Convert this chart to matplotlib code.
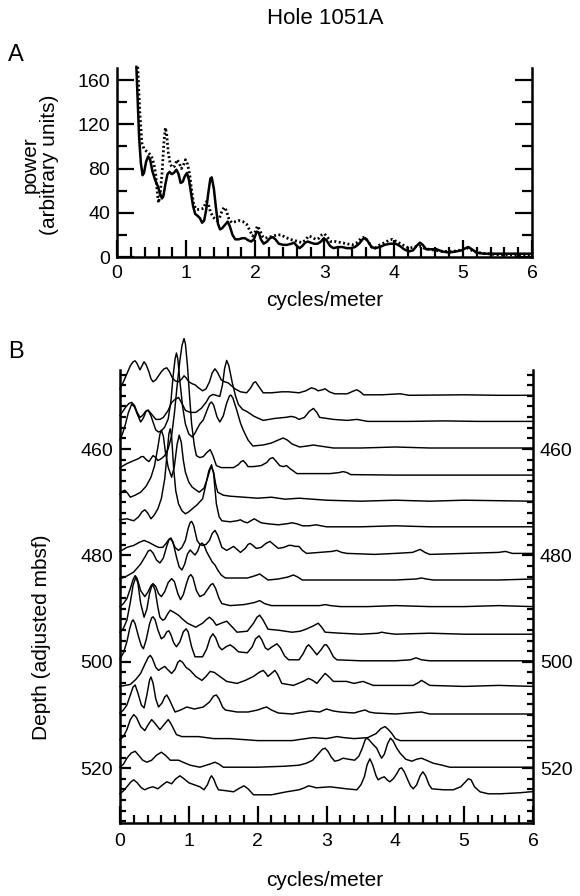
import matplotlib
matplotlib.use("Agg")
import matplotlib.pyplot as plt
from matplotlib.ticker import MultipleLocator, FixedLocator

plt.rcParams['font.family'] = ['Liberation Sans', 'DejaVu Sans']

# ---------------- Panel A data (frequency in cycles/m, power in arbitrary units) ----------------
a_solid = [(0.28,172),(0.30,140),(0.32,108),(0.345,85),(0.37,74),(0.39,76),(0.42,86),(0.45,91),(0.48,88),
           (0.51,78),(0.55,70),(0.59,64),(0.62,58),(0.65,53),(0.67,55),(0.70,66),(0.73,75),(0.76,77),
           (0.79,75),(0.82,76),(0.86,79),(0.89,75),(0.92,67),(0.95,68),(0.98,73),(1.01,76),(1.04,70),
           (1.07,58),(1.10,46),(1.13,39),(1.17,37),(1.20,35),(1.23,31),(1.26,33),(1.29,43),(1.32,58),
           (1.35,71),(1.37,72),(1.40,62),(1.43,45),(1.46,30),(1.49,25),(1.52,26),(1.56,29),(1.60,32),
           (1.63,28),(1.67,20),(1.71,16),(1.76,16),(1.81,17),(1.85,17),(1.90,15),(1.94,14),(1.98,16),
           (2.02,23),(2.05,22),(2.08,16),(2.12,12),(2.17,14),(2.21,17),(2.25,18),(2.29,16),(2.34,12),
           (2.40,11),(2.46,11),(2.52,12),(2.56,13),(2.60,10),(2.64,8),(2.68,10),(2.72,13),(2.76,14),
           (2.80,13),(2.85,12),(2.90,12),(2.95,14),(2.99,17),(3.03,15),(3.08,10),(3.13,8),(3.20,9),
           (3.26,9),(3.32,8),(3.38,8),(3.44,9),(3.50,12),(3.55,16),(3.59,17),(3.63,14),(3.68,9),
           (3.73,8),(3.80,9),(3.87,11),(3.95,12),(4.03,12),(4.09,10),(4.15,7),(4.22,5),(4.28,6),
           (4.33,10),(4.38,13),(4.42,11),(4.47,7),(4.55,7),(4.62,7),(4.70,5),(4.80,4),(4.90,5),
           (4.98,6),(5.04,8),(5.08,9),(5.13,7),(5.20,4),(5.30,3),(5.45,3),(5.60,3),(6.0,3)]
a_dotted = [(0.30,172),(0.33,130),(0.36,103),(0.39,98),(0.42,96),(0.46,94),(0.50,91),(0.53,85),(0.56,75),
            (0.58,60),(0.60,49),(0.62,55),(0.65,75),(0.68,105),(0.70,117),(0.72,110),(0.74,95),(0.77,84),
            (0.80,81),(0.83,82),(0.87,88),(0.90,85),(0.93,80),(0.96,83),(0.99,88),(1.02,84),(1.05,75),
            (1.08,60),(1.11,47),(1.15,43),(1.20,43),(1.25,44),(1.29,50),(1.32,48),(1.35,41),(1.39,36),
            (1.44,33),(1.48,35),(1.52,42),(1.55,45),(1.58,42),(1.62,34),(1.66,31),(1.71,32),(1.76,33),
            (1.82,32),(1.87,30),(1.92,24),(1.96,19),(2.00,23),(2.03,28),(2.06,25),(2.10,19),(2.14,17),
            (2.20,18),(2.26,19),(2.32,20),(2.37,20),(2.43,18),(2.50,16),(2.56,15),(2.62,14),(2.67,13),
            (2.72,15),(2.77,19),(2.82,18),(2.87,16),(2.92,17),(2.96,20),(3.00,21),(3.04,18),(3.09,14),
            (3.16,14),(3.24,13),(3.32,12),(3.40,11),(3.47,13),(3.53,17),(3.58,18),(3.63,14),(3.68,9),
            (3.73,8),(3.80,11),(3.87,13),(3.93,15),(3.98,16),(4.04,14),(4.10,12),(4.16,10),(4.22,8),
            (4.30,9),(4.37,10),(4.44,8),(4.51,7),(4.60,6),(4.72,5),(4.85,5),(4.95,6),(5.02,8),(5.07,8),
            (5.13,6),(5.21,4),(5.35,3),(5.50,2),(6.0,2)]

# ---------------- Panel B data: one spectrum per depth (frequency, power) ----------------
depths = [450, 455, 460, 465, 470, 475, 480, 485, 490, 495, 500, 505, 510, 515, 520, 525]
traces = {
    450: [(0,7),(0.05,14),(0.1,22),(0.15,30),(0.19,34),(0.22,35),(0.25,32),(0.29,26),(0.32,30),(0.35,34),
          (0.38,31),(0.42,24),(0.45,17),(0.48,14),(0.52,16),(0.56,20),(0.6,24),(0.64,27),(0.68,28),
          (0.72,24),(0.76,18),(0.8,15),(0.85,14),(0.9,17),(0.93,20),(0.96,18),(1.0,14),(1.05,12),
          (1.09,11),(1.14,8),(1.2,5),(1.25,7),(1.3,14),(1.34,23),(1.38,27),(1.42,23),(1.47,16),(1.52,14),
          (1.57,13),(1.62,10),(1.67,7),(1.75,4),(1.84,3),(1.9,8),(1.94,13),(1.97,14),(2.01,10),(2.08,3),
          (2.2,3),(2.35,4),(2.45,4),(2.6,3),(2.7,5),(2.78,8),(2.83,7),(2.88,5),(2.94,6),(2.98,7),(3.04,4),
          (3.12,2),(3.3,2),(3.4,5),(3.44,6),(3.49,4),(3.54,1),(3.8,1),(4.07,2),(4.2,0.5),(5.0,1),
          (5.5,0.5),(6,0.5)],
    455: [(0,7),(0.04,11),(0.08,15),(0.13,19),(0.17,20),(0.21,17),(0.25,10),(0.29,5),(0.33,7),(0.37,11),
          (0.41,12),(0.45,9),(0.52,3),(0.58,3),(0.63,5),(0.7,12),(0.75,20),(0.8,23),(0.85,25),(0.9,19),
          (0.95,12),(1.02,10),(1.1,10),(1.18,14),(1.25,20),(1.3,26),(1.35,28),(1.4,27),(1.45,26),
          (1.49,38),(1.52,54),(1.55,62),(1.58,57),(1.63,40),(1.68,26),(1.72,18),(1.78,13),(1.84,11),
          (1.95,6),(2.08,2),(2.25,4),(2.4,5),(2.49,6),(2.55,5),(2.6,3),(2.68,5),(2.75,11),(2.81,14),
          (2.86,10),(2.9,5),(3.0,4),(3.1,3),(3.3,2),(3.44,3),(3.6,1),(4.2,1),(4.7,1.5),(5.2,1),(6,1)],
    460: [(0,9),(0.04,16),(0.08,25),(0.12,36),(0.17,45),(0.21,42),(0.25,35),(0.3,27),(0.34,31),(0.38,38),
          (0.41,39),(0.45,33),(0.52,19),(0.56,17),(0.6,18),(0.65,22),(0.7,30),(0.74,48),(0.77,72),
          (0.8,90),(0.82,96),(0.84,90),(0.87,68),(0.91,42),(0.95,25),(1.0,15),(1.05,12),(1.09,16),
          (1.12,20),(1.16,25),(1.21,29),(1.26,38),(1.3,45),(1.33,47),(1.36,44),(1.41,32),(1.45,27),
          (1.5,33),(1.55,46),(1.59,53),(1.61,54),(1.64,51),(1.7,38),(1.75,26),(1.79,19),(1.86,9),
          (1.93,3),(2.08,4),(2.2,6),(2.3,9),(2.37,11),(2.43,9),(2.5,5),(2.61,2),(2.72,3),(2.81,4),
          (2.9,3),(3.1,1),(3.5,1),(4.0,2),(4.5,1),(5.5,1),(6,1)],
    465: [(0,8),(0.05,10),(0.1,12),(0.2,15),(0.27,17),(0.31,19),(0.34,19),(0.38,16),(0.42,14),(0.45,17),
          (0.48,20),(0.52,18),(0.55,15),(0.6,17),(0.65,20),(0.7,27),(0.75,40),(0.79,62),(0.83,90),
          (0.87,115),(0.9,130),(0.93,137),(0.95,132),(0.98,110),(1.01,80),(1.04,52),(1.08,30),(1.11,20),
          (1.16,18),(1.21,19),(1.26,23),(1.31,26),(1.35,20),(1.4,10),(1.47,8),(1.55,8),(1.65,8),
          (1.72,11),(1.76,14),(1.79,15),(1.83,12),(1.86,9),(1.94,9),(2.05,10),(2.13,13),(2.18,17),
          (2.22,18),(2.26,15),(2.32,10),(2.37,9),(2.42,10),(2.47,7),(2.57,2),(2.8,2),(3.05,2),(3.18,3),
          (3.24,4),(3.3,3),(3.35,1),(4,0.5),(6,0.5)],
    470: [(0,8),(0.04,11),(0.07,12),(0.11,9),(0.15,5),(0.22,7),(0.3,10),(0.38,16),(0.45,25),(0.5,36),
          (0.55,55),(0.58,68),(0.6,72),(0.63,66),(0.66,50),(0.7,35),(0.75,25),(0.79,36),(0.83,58),
          (0.86,67),(0.89,60),(0.92,42),(0.95,30),(1.0,20),(1.05,15),(1.15,10),(1.22,14),(1.27,24),
          (1.31,33),(1.33,35),(1.36,30),(1.39,18),(1.42,10),(1.5,7),(1.6,6),(1.8,5),(2.0,4),(2.2,5),
          (2.4,3),(2.6,4),(2.8,3),(3.0,2),(3.5,1),(4,2),(4.5,1),(5,2),(6,1)],
    475: [(0,9),(0.1,10),(0.2,8),(0.27,12),(0.32,17),(0.36,19),(0.4,16),(0.45,10),(0.5,14),(0.55,20),
          (0.6,30),(0.65,50),(0.68,72),(0.71,95),(0.73,100),(0.75,92),(0.78,60),(0.81,38),(0.85,25),
          (0.9,18),(0.95,15),(1.0,17),(1.05,20),(1.12,24),(1.2,30),(1.25,45),(1.29,58),(1.33,64),
          (1.36,55),(1.38,40),(1.4,25),(1.44,12),(1.48,8),(1.6,7),(1.7,8),(1.75,9),(1.8,7),(1.85,6),
          (1.9,8),(1.95,10),(2.0,8),(2.05,6),(2.15,5),(2.3,4),(2.42,5),(2.5,6),(2.57,5),(2.65,3),
          (2.75,3),(2.85,4),(2.92,3),(3.0,2),(3.5,2),(4.0,3),(4.5,2),(5.0,2),(5.5,2),(6,2)],
    480: [(0,4),(0.1,8),(0.2,10),(0.28,13),(0.35,15),(0.42,13),(0.5,10),(0.56,8),(0.62,8),(0.67,12),
          (0.71,16),(0.73,17),(0.76,14),(0.8,8),(0.85,5),(0.9,8),(0.95,15),(0.99,27),(1.02,33),(1.04,34),
          (1.07,30),(1.12,15),(1.16,11),(1.2,10),(1.25,11),(1.3,15),(1.34,22),(1.38,25),(1.42,20),
          (1.48,8),(1.55,5),(1.6,7),(1.65,9),(1.7,6),(1.75,3),(1.82,7),(1.86,11),(1.89,12),(1.93,10),
          (1.98,7),(2.05,8),(2.12,12),(2.18,14),(2.23,11),(2.3,7),(2.38,8),(2.45,10),(2.49,10),(2.55,9),
          (2.6,9),(2.65,5),(2.71,2),(2.9,3),(3.08,4),(3.15,5),(3.22,3),(3.3,2),(3.7,1),(4.0,2),(4.25,3),
          (4.36,6),(4.43,3),(4.5,1),(5.0,2),(5.5,3),(5.6,4),(5.7,2),(6,2)],
    485: [(0,3),(0.1,6),(0.2,10),(0.3,18),(0.37,26),(0.41,31),(0.44,32),(0.48,29),(0.53,22),(0.58,19),
          (0.63,24),(0.68,36),(0.71,42),(0.74,44),(0.77,40),(0.82,25),(0.86,15),(0.9,12),(0.94,18),
          (0.98,28),(1.02,32),(1.06,29),(1.09,27),(1.13,31),(1.16,37),(1.19,39),(1.22,37),(1.26,30),
          (1.3,25),(1.34,20),(1.38,17),(1.42,12),(1.47,7),(1.53,4),(1.7,4),(1.85,4),(1.95,6),(2.03,8),
          (2.09,5),(2.15,2),(2.3,3),(2.44,5),(2.52,7),(2.58,5),(2.65,2),(3.0,2),(3.5,2),(4.0,2),(4.3,3),
          (4.38,4),(4.45,3),(4.55,2),(5.0,2),(5.5,2),(6,3)],
    490: [(0,2),(0.05,5),(0.1,10),(0.15,20),(0.19,29),(0.22,33),(0.25,30),(0.3,18),(0.36,12),(0.41,17),
          (0.45,23),(0.48,25),(0.52,22),(0.56,15),(0.6,12),(0.65,17),(0.7,26),(0.75,30),(0.79,27),
          (0.84,15),(0.88,9),(0.92,14),(0.97,26),(1.0,32),(1.03,34),(1.06,31),(1.11,18),(1.16,12),
          (1.22,14),(1.28,20),(1.32,24),(1.35,25),(1.39,20),(1.44,10),(1.48,5),(1.6,3),(1.8,4),(1.95,6),
          (2.03,8),(2.1,5),(2.2,3),(2.5,3),(2.9,3),(2.98,4),(3.06,3),(3.2,2),(3.6,2),(4.0,3),(4.5,2),
          (5.0,2),(5.5,3),(6,2)],
    495: [(0,3),(0.05,7),(0.1,15),(0.15,33),(0.19,50),(0.23,58),(0.26,52),(0.3,32),(0.35,18),(0.39,26),
          (0.43,42),(0.46,49),(0.48,50),(0.51,45),(0.55,28),(0.58,18),(0.62,15),(0.65,16),(0.69,21),
          (0.73,25),(0.78,23),(0.85,20),(0.91,16),(0.98,12),(1.1,8),(1.2,12),(1.26,16),(1.3,18),
          (1.35,15),(1.4,10),(1.47,12),(1.55,14),(1.62,9),(1.7,3),(1.85,4),(1.94,12),(1.99,18),(2.03,20),
          (2.08,15),(2.15,6),(2.3,5),(2.5,3),(2.62,4),(2.7,6),(2.8,9),(2.88,12),(2.93,8),(2.98,3),
          (3.2,2),(3.5,1),(3.75,2),(3.8,3),(3.88,2),(4.0,1),(4.5,2),(5.0,1),(6,1)],
    500: [(0,3),(0.05,9),(0.1,20),(0.14,33),(0.17,40),(0.19,42),(0.22,38),(0.27,25),(0.31,16),(0.34,13),
          (0.38,22),(0.43,38),(0.46,44),(0.48,45),(0.51,42),(0.55,32),(0.6,23),(0.64,25),(0.68,30),
          (0.71,31),(0.74,27),(0.78,19),(0.82,15),(0.87,20),(0.92,30),(0.96,33),(0.99,30),(1.04,15),
          (1.09,5),(1.2,5),(1.26,13),(1.31,24),(1.35,28),(1.39,24),(1.44,15),(1.48,12),(1.54,15),
          (1.6,17),(1.66,14),(1.72,10),(1.85,9),(1.92,15),(1.97,23),(2.02,26),(2.06,22),(2.11,14),
          (2.15,12),(2.21,15),(2.28,18),(2.33,14),(2.39,6),(2.45,2),(2.6,2),(2.66,8),(2.71,15),(2.74,17),
          (2.78,14),(2.86,7),(2.92,12),(2.97,17),(3.0,17),(3.04,13),(3.1,5),(3.15,2),(3.5,1),(4.0,1),
          (4.22,2),(4.3,4),(4.38,2),(4.5,1),(5.0,1),(6,1)],
    505: [(0,2),(0.15,4),(0.23,9),(0.3,15),(0.36,24),(0.41,31),(0.44,33),(0.47,30),(0.52,21),(0.56,18),
          (0.6,20),(0.65,22),(0.69,19),(0.75,15),(0.8,19),(0.84,26),(0.87,28),(0.91,26),(0.96,21),
          (1.02,18),(1.1,12),(1.19,8),(1.25,12),(1.31,17),(1.37,16),(1.45,12),(1.55,7),(1.7,5),(1.82,8),
          (1.88,10),(1.94,12),(2.02,16),(2.08,18),(2.12,15),(2.15,12),(2.2,15),(2.25,18),(2.29,14),
          (2.35,5),(2.52,3),(2.66,7),(2.74,10),(2.8,8),(2.86,5),(2.92,10),(2.98,15),(3.03,12),(3.1,7),
          (3.29,7),(3.4,5),(3.53,7),(3.68,3),(4.26,3),(4.34,6),(4.38,8),(4.43,6),(4.5,3),(5.0,2),
          (5.5,3),(6,2)],
    510: [(0,2),(0.05,5),(0.1,10),(0.15,20),(0.19,28),(0.22,30),(0.26,22),(0.31,10),(0.35,7),(0.39,20),
          (0.43,35),(0.45,38),(0.48,32),(0.52,16),(0.56,8),(0.61,12),(0.65,18),(0.68,20),(0.72,15),
          (0.8,3),(0.88,5),(0.97,8),(1.08,6),(1.21,8),(1.3,13),(1.36,19),(1.4,20),(1.44,16),(1.49,8),
          (1.53,5),(1.7,3),(1.86,3),(2.0,5),(2.08,7),(2.13,8),(2.2,5),(2.3,2),(2.5,1),(2.76,4),(2.9,3),
          (3.0,6),(3.1,4),(3.2,3),(3.4,2),(3.5,4),(3.56,5),(3.62,3),(3.7,2),(4.0,1),(4.38,3),(4.5,1),
          (5.0,1),(6,1)],
    515: [(0,2),(0.05,5),(0.1,12),(0.15,22),(0.2,27),(0.24,24),(0.3,15),(0.36,11),(0.41,17),(0.46,22),
          (0.5,19),(0.58,12),(0.64,17),(0.7,22),(0.74,18),(0.82,7),(0.9,5),(1.0,5),(1.14,5),(1.36,3),
          (1.6,3),(2.0,1),(2.5,1),(2.7,3),(2.81,4),(3.0,3),(3.15,5),(3.25,4),(3.4,3),(3.6,4),(3.72,8),
          (3.79,13),(3.85,15),(3.9,12),(3.95,8),(4.0,3),(4.07,1),(4.5,1),(5,1),(6,1)],
    520: [(0,1),(0.05,4),(0.1,10),(0.16,15),(0.22,17),(0.27,13),(0.33,8),(0.39,6),(0.46,8),(0.53,13),
          (0.6,16),(0.66,13),(0.73,8),(0.85,8),(0.95,5),(1.02,3),(1.16,1),(1.3,4),(1.38,6),(1.44,4),
          (1.5,1),(2.0,1),(2.4,2),(2.6,3),(2.71,5),(2.8,8),(2.89,15),(2.94,19),(2.98,20),(3.02,17),
          (3.07,11),(3.12,7),(3.18,8),(3.24,10),(3.32,9),(3.41,8),(3.47,12),(3.52,20),(3.56,28),
          (3.58,30),(3.61,29),(3.66,25),(3.73,20),(3.77,14),(3.8,10),(3.84,14),(3.89,25),(3.93,30),
          (3.97,27),(4.02,20),(4.07,15),(4.15,9),(4.24,7),(4.31,9),(4.38,10),(4.45,8),(4.55,5),(4.68,3),
          (4.79,1),(5.5,1),(6,1)],
    525: [(0,1),(0.05,4),(0.1,8),(0.16,13),(0.2,15),(0.25,12),(0.31,7),(0.36,5),(0.42,7),(0.48,8),
          (0.55,6),(0.62,10),(0.68,13),(0.75,11),(0.81,16),(0.87,19),(0.93,16),(1.0,12),(1.08,10),
          (1.16,8),(1.22,5),(1.27,10),(1.31,17),(1.33,19),(1.36,16),(1.4,9),(1.43,5),(1.55,4),(1.65,3),
          (1.72,6),(1.8,9),(1.86,6),(1.94,0),(2.2,0),(2.42,3),(2.6,5),(2.68,7),(2.74,9),(2.8,8),(2.85,7),
          (3.05,8),(3.29,6),(3.44,5),(3.5,10),(3.55,18),(3.59,30),(3.63,36),(3.67,30),(3.72,19),
          (3.75,15),(3.8,17),(3.84,18),(3.88,15),(3.92,13),(3.97,16),(4.02,21),(4.06,26),(4.09,27),
          (4.13,23),(4.18,15),(4.22,9),(4.26,6),(4.31,10),(4.36,19),(4.4,23),(4.44,19),(4.49,10),
          (4.53,6),(4.7,5),(4.84,5),(4.95,8),(5.02,13),(5.06,16),(5.1,15),(5.15,8),(5.23,3),(5.35,1),
          (5.52,1),(5.8,2),(5.96,3),(6,3)],
}
power_scale = 1 / 5.32   # metres of depth per unit of (arbitrary) power

freq_ticks = [0, 1, 2, 3, 4, 5, 6]
a_yticks = [0, 40, 80, 120, 160]
b_yticks = [460, 480, 500, 520]

# ---------------- Figure ----------------
W, H = 580, 896
fig = plt.figure(figsize=(W / 100, H / 100), dpi=100)

def frac(x0, y0, x1, y1):
    return [x0 / W, 1 - y1 / H, (x1 - x0) / W, (y1 - y0) / H]

axA = fig.add_axes(frac(117, 68, 532, 257))
axB = fig.add_axes(frac(120, 370, 533, 823))

TICK_FS = 14
LABEL_FS = 15
for ax in (axA, axB):
    ax.spines['top'].set_visible(False)
    for s in ('left', 'right', 'bottom'):
        ax.spines[s].set_linewidth(1.8)
    ax.set_facecolor('none')

# Panel A
axA.plot([p[0] for p in a_solid], [p[1] for p in a_solid], color='black', lw=1.8,
         clip_on=False, solid_joinstyle='round')
axA.plot([p[0] for p in a_dotted], [p[1] for p in a_dotted], color='black', lw=2.0,
         linestyle=(0, (0.7, 0.9)), dash_capstyle='butt', clip_on=False)
axA.set_xlim(0, 6)
axA.set_ylim(0, 171)
axA.xaxis.set_major_locator(FixedLocator(freq_ticks))
axA.xaxis.set_minor_locator(MultipleLocator(0.2))
axA.yaxis.set_major_locator(FixedLocator(a_yticks))
axA.yaxis.set_minor_locator(MultipleLocator(20))
axA.tick_params(axis='both', which='both', direction='in', width=1.6, top=False, right=True,
                labelsize=TICK_FS)
axA.tick_params(axis='both', which='major', length=12)
axA.tick_params(axis='both', which='minor', length=7)
axA.tick_params(axis='x', pad=6)
axA.tick_params(axis='y', pad=5)

# Panel B
for d in depths:
    pts = traces[d]
    axB.plot([p[0] for p in pts], [d - p[1] * power_scale for p in pts], color='black', lw=1.05,
             clip_on=False, solid_joinstyle='round')
axB.set_xlim(0, 6)
axB.set_ylim(530.3, 445.15)
axB.xaxis.set_major_locator(FixedLocator(freq_ticks))
axB.xaxis.set_minor_locator(MultipleLocator(0.2))
axB.yaxis.set_major_locator(FixedLocator(b_yticks))
axB.yaxis.set_minor_locator(MultipleLocator(2))
axB.tick_params(axis='both', which='both', direction='in', width=1.6, top=False, right=True,
                labelright=True, labelsize=TICK_FS)
axB.tick_params(axis='x', which='major', length=12, pad=7)
axB.tick_params(axis='x', which='minor', length=6)
axB.tick_params(axis='y', which='major', length=8, pad=5)
axB.tick_params(axis='y', which='minor', length=4.5)

# Texts
fig.text(0.56, 1 - 18 / H, 'Hole 1051A', ha='center', va='center', fontsize=16)
fig.text(16 / W, 1 - 55 / H, 'A', ha='center', va='center', fontsize=17)
fig.text(16 / W, 1 - 352 / H, 'B', ha='center', va='center', fontsize=17)
fig.text(0.56, 1 - 300 / H, 'cycles/meter', ha='center', va='center', fontsize=LABEL_FS)
fig.text(0.56, 1 - 880 / H, 'cycles/meter', ha='center', va='center', fontsize=LABEL_FS)
fig.text(40 / W, 1 - 165 / H, 'power\n(arbitrary units)', ha='center', va='center',
         rotation=90, fontsize=LABEL_FS, linespacing=1.0)
fig.text(42 / W, 1 - 637 / H, 'Depth (adjusted mbsf)', ha='center', va='center',
         rotation=90, fontsize=LABEL_FS)

fig.savefig('out.png', dpi=100)
